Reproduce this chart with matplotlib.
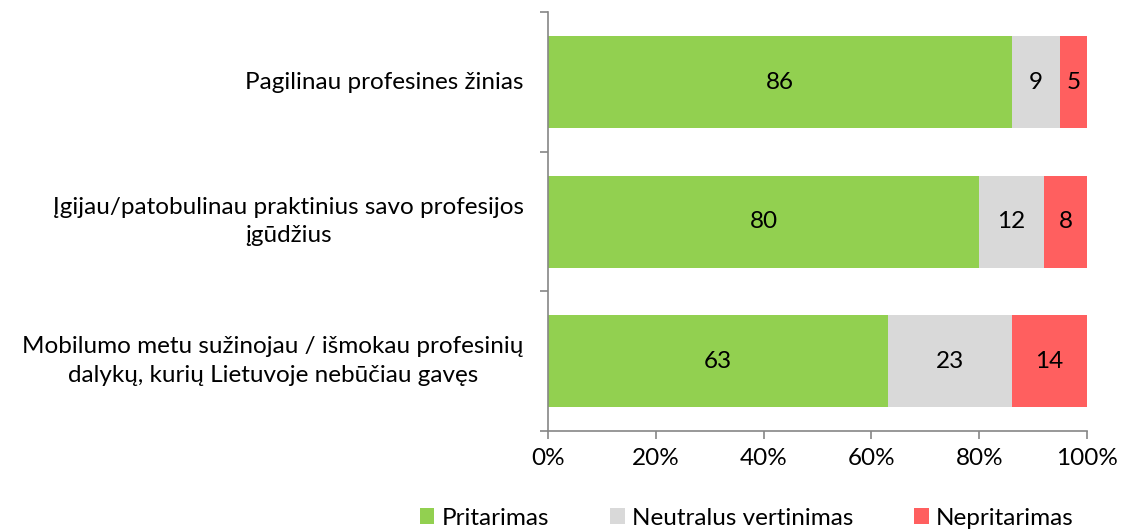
import matplotlib.pyplot as plt
from matplotlib.ticker import FixedLocator, PercentFormatter

plt.rcParams['font.family'] = ['Lato', 'DejaVu Sans']

categories = [
    "Pagilinau profesines žinias",
    "Įgijau/patobulinau praktinius savo profesijos\nįgūdžius",
    "Mobilumo metu sužinojau / išmokau profesinių\ndalykų, kurių Lietuvoje nebūčiau gavęs",
]
pritarimas = [86, 80, 63]
neutralus = [9, 12, 23]
nepritarimas = [5, 8, 14]
series_names = ["Pritarimas", "Neutralus vertinimas", "Nepritarimas"]
colors = ["#92D050", "#D9D9D9", "#FF5F5F"]

fs = 17.5

fig = plt.figure(figsize=(11.23, 5.32), dpi=100)
ax = fig.add_axes([0.488, 0.19, 0.48, 0.787])

ypos = list(range(len(categories)))
left = [0] * len(categories)
for vals, name, col in zip([pritarimas, neutralus, nepritarimas], series_names, colors):
    bars = ax.barh(ypos, vals, left=left, height=0.66, color=col, label=name)
    for b, v in zip(bars, vals):
        ax.text(b.get_x() + b.get_width() / 2, b.get_y() + b.get_height() / 2, str(v),
                ha='center', va='center', fontsize=fs, color='black')
    left = [l + v for l, v in zip(left, vals)]

ax.set_xlim(0, 100)
ax.set_ylim(len(categories) - 0.5, -0.5)
ax.set_xticks(range(0, 101, 20))
ax.xaxis.set_major_formatter(PercentFormatter(decimals=0))

# category labels drawn as text so the two-line ones can be centred
ax.set_yticks(ypos)
ax.set_yticklabels([])
ax.tick_params(axis='y', length=0)
for y, cat in zip(ypos, categories):
    ax.text(-0.045, y, cat, transform=ax.get_yaxis_transform(), ha='right', va='center',
            multialignment='center', linespacing=1.45, fontsize=fs)

ax.yaxis.set_minor_locator(FixedLocator([-0.5, 0.5, 1.5, 2.5]))
ax.tick_params(axis='y', which='minor', length=6, color='#868686', width=1.2)
ax.tick_params(axis='x', length=6, color='#868686', width=1.2, labelsize=fs, pad=6)

for s in ['top', 'right']:
    ax.spines[s].set_visible(False)
for s in ['left', 'bottom']:
    ax.spines[s].set_color('#868686')
    ax.spines[s].set_linewidth(1.2)

fig.legend(loc='lower center', bbox_to_anchor=(0.665, -0.035), ncol=3, frameon=False,
           fontsize=fs, handlelength=0.6, handleheight=0.6, handletextpad=0.3,
           columnspacing=2.5)

fig.savefig('out.png', dpi=100)
